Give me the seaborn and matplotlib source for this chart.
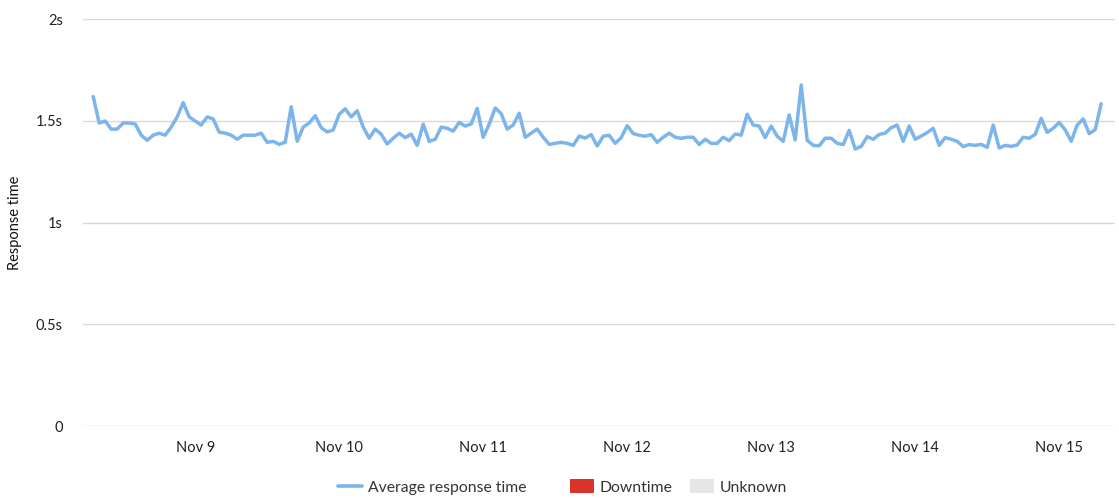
import matplotlib
matplotlib.use("Agg")
import matplotlib.pyplot as plt
import matplotlib.dates as mdates
from matplotlib.lines import Line2D
from matplotlib.patches import Patch
import numpy as np
import pandas as pd
import seaborn as sns

# ---- data ----
start_time = "2023-11-08 07:00"
response_time = [
    1.62, 1.49, 1.50, 1.46, 1.46, 1.49, 1.49, 1.485, 1.43, 1.405,
    1.43, 1.44, 1.43, 1.47, 1.52, 1.59, 1.52, 1.50, 1.48, 1.52,
    1.51, 1.445, 1.44, 1.43, 1.41, 1.43, 1.43, 1.43, 1.44, 1.395,
    1.40, 1.385, 1.395, 1.57, 1.40, 1.47, 1.49, 1.526, 1.467, 1.446,
    1.456, 1.533, 1.56, 1.52, 1.55, 1.47, 1.415, 1.46, 1.435, 1.387,
    1.415, 1.44, 1.418, 1.435, 1.38, 1.484, 1.40, 1.41, 1.47, 1.464,
    1.45, 1.493, 1.475, 1.485, 1.562, 1.42, 1.484, 1.564, 1.536, 1.46,
    1.48, 1.538, 1.42, 1.44, 1.46, 1.42, 1.385, 1.39, 1.395, 1.39,
    1.38, 1.426, 1.416, 1.433, 1.377, 1.425, 1.43, 1.39, 1.418, 1.477,
    1.438, 1.43, 1.425, 1.433, 1.395, 1.42, 1.44, 1.42, 1.415, 1.42,
    1.42, 1.384, 1.41, 1.39, 1.39, 1.42, 1.403, 1.436, 1.43, 1.533,
    1.48, 1.475, 1.418, 1.475, 1.425, 1.40, 1.53, 1.407, 1.677, 1.405,
    1.38, 1.378, 1.415, 1.415, 1.39, 1.384, 1.454, 1.362, 1.375, 1.423,
    1.41, 1.434, 1.44, 1.467, 1.48, 1.40, 1.475, 1.41, 1.426, 1.443,
    1.464, 1.38, 1.418, 1.41, 1.40, 1.374, 1.384, 1.38, 1.385, 1.37,
    1.48, 1.367, 1.38, 1.375, 1.382, 1.42, 1.415, 1.434, 1.513, 1.444,
    1.464, 1.493, 1.456, 1.40, 1.48, 1.51, 1.438, 1.457, 1.585,
]
y_ticks = [0, 0.5, 1, 1.5, 2]
y_tick_labels = ["0", "0.5s", "1s", "1.5s", "2s"]
legend_labels = ["Average response time", "Downtime", "Unknown"]
series_colors = ["#7cb5ec", "#d9332b", "#e6e6e6"]

times = pd.date_range(start_time, periods=len(response_time), freq="h")
df = pd.DataFrame({"time": times, "response": response_time})

# ---- style ----
sns.set_style("white")
plt.rcParams["font.family"] = ["Lato", "DejaVu Sans"]

W, H = 1119, 499
fig = plt.figure(figsize=(W / 100, H / 100), dpi=100)
ax = fig.add_axes([83 / W, 73 / H, (1115 - 83) / W, (426 - 19.3) / H])

sns.lineplot(data=df, x="time", y="response", ax=ax, color=series_colors[0],
             linewidth=2.5, legend=False)

ax.set_ylim(0, 2)
ax.set_yticks(y_ticks)
ax.set_yticklabels(y_tick_labels)
ax.set_xlim(times[0] - pd.Timedelta(hours=1.7), times[-1] + pd.Timedelta(hours=2.3))
ax.xaxis.set_major_locator(mdates.DayLocator())
ax.xaxis.set_major_formatter(mdates.DateFormatter("%b %-d"))

ax.grid(axis="y", color="#d9d9d9", linewidth=1)
ax.grid(axis="x", visible=False)
for s in ax.spines.values():
    s.set_visible(False)

ax.tick_params(axis="y", length=0, pad=14.4, labelsize=10.5, labelcolor="#222222")
ax.tick_params(axis="x", length=7, width=1, color="#d9d9d9", pad=4,
               labelsize=10.5, labelcolor="#222222", direction="out")

ax.set_xlabel("")
ax.set_ylabel("Response time", fontsize=10.5, color="#111111")
ax.yaxis.set_label_coords(-61 / (1115 - 83), 0.5)

handles = [
    Line2D([0], [0], color=series_colors[0], linewidth=2.6),
    Patch(facecolor=series_colors[1], edgecolor="none"),
    Patch(facecolor=series_colors[2], edgecolor="none"),
]
legend_x = [338, 570, 690]
for h, lab, lx in zip(handles, legend_labels, legend_x):
    fig.legend([h], [lab], loc="center left", bbox_to_anchor=(lx / W, 12 / H),
               frameon=False, fontsize=11.3, handlelength=1.5, handleheight=1.0,
               handletextpad=0.4, borderpad=0, borderaxespad=0,
               labelcolor="#333333")

fig.savefig("out.png", dpi=100)
